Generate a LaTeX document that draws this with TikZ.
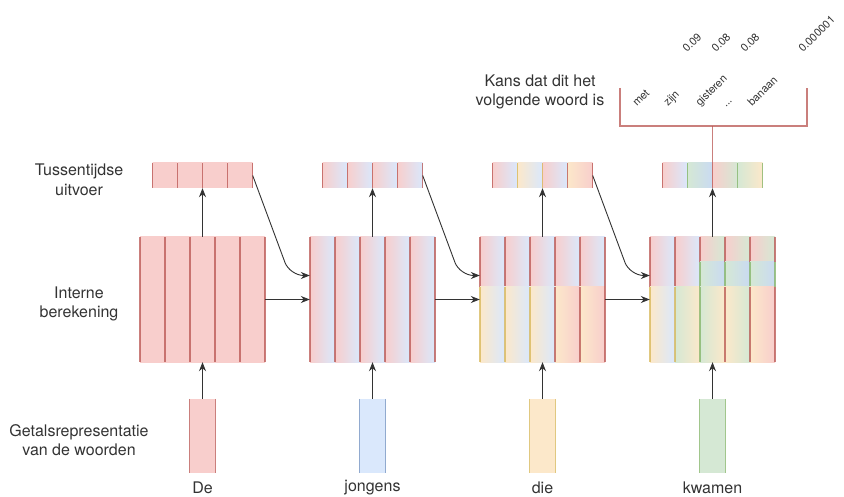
\documentclass[tikz,border=0pt]{standalone}
\usepackage{fontspec}
\setmainfont{TeX Gyre Heros}
\usetikzlibrary{arrows.meta}

\definecolor{redF}{HTML}{F8CECC}
\definecolor{redS}{HTML}{B85450}
\definecolor{blueF}{HTML}{DAE8FC}
\definecolor{blueM}{HTML}{C9DAF2}
\definecolor{blueS}{HTML}{6C8EBF}
\definecolor{yelF}{HTML}{FCE8CA}
\definecolor{yelS}{HTML}{D6B656}
\definecolor{grnF}{HTML}{D5E8D4}
\definecolor{grnS}{HTML}{82B366}

\def\colw{25}
% shaded cell: x, top, bottom, left colour, right colour, line colour
\newcommand\gcell[6]{%
  \shade[left color=#4, right color=#5] (#1,#2) rectangle ({#1+\colw},#3);
  \draw[#6, line width=1.3pt, opacity=0.75] (#1,#2) -- (#1,#3);
}

\begin{document}
\begin{tikzpicture}[x=1pt, y=-1pt,
  lbl/.style={font=\fontsize{16}{19.5}\selectfont, align=center, text=black!80},
  prob/.style={font=\fontsize{11}{13}\selectfont, rotate=45, anchor=base west, inner sep=0pt, text=black!80},
  blk/.style={minimum width=125pt, minimum height=125pt, inner sep=0pt},
  outbar/.style={minimum width=100pt, minimum height=25pt, inner sep=0pt},
  inbar/.style={minimum width=25pt, minimum height=74pt, inner sep=0pt},
  flow/.style={-{Stealth[length=9pt,width=7pt]}, draw=black!80, line width=0.9pt},
  edge/.style={line width=1.3pt, opacity=0.75}]
  \useasboundingbox (0,0) rectangle (844,497);

  % block 1: De
  \foreach \x in {140,165,...,240} \gcell{\x}{237}{362}{redF}{redF}{redS};
  \draw[edge, redS] (265,237) -- (265,362);
  \foreach \x in {152.5,177.5,...,227.5} \gcell{\x}{163}{188}{redF}{redF}{redS};
  \draw[edge, redS] (252.5,163) -- (252.5,188);

  % block 2: jongens
  \foreach \x in {310,335,...,410} \gcell{\x}{237}{362}{redF}{blueF}{redS};
  \draw[edge, redS] (435,237) -- (435,362);
  \foreach \x in {322.5,347.5,...,397.5} \gcell{\x}{163}{188}{redF}{blueF}{redS};
  \draw[edge, redS] (422.5,163) -- (422.5,188);

  % block 3: die
  \foreach \x in {480,505,...,580} \gcell{\x}{237}{287}{redF}{blueF}{redS};
  \foreach \x in {480,505,530} \gcell{\x}{287}{362}{yelF}{blueF}{yelS};
  \foreach \x in {555,580} \gcell{\x}{287}{362}{yelF}{redF}{redS};
  \draw[edge, redS] (605,237) -- (605,362);
  \gcell{492.5}{163}{188}{redF}{blueF}{redS}
  \gcell{517.5}{163}{188}{yelF}{blueF}{yelS}
  \gcell{542.5}{163}{188}{redF}{blueF}{yelS}
  \gcell{567.5}{163}{188}{yelF}{redF}{redS}
  \draw[edge, redS] (592.5,163) -- (592.5,188);

  % block 4: kwamen
  \foreach \x in {650,675} \gcell{\x}{237}{287}{redF}{blueF}{redS};
  \gcell{650}{287}{362}{yelF}{blueF}{yelS}
  \gcell{675}{287}{362}{grnF}{yelF}{yelS}
  \foreach \x in {700,725,750} {
    \gcell{\x}{237}{262}{redF}{grnF}{redS}
    \gcell{\x}{262}{287}{grnF}{blueM}{grnS}
  }
  \gcell{700}{287}{362}{grnF}{yelF}{grnS}
  \gcell{725}{287}{362}{yelF}{grnF}{redS}
  \gcell{750}{287}{362}{yelF}{redF}{redS}
  \draw[edge, redS] (775,237) -- (775,262);
  \draw[edge, grnS] (775,262) -- (775,287);
  \draw[edge, redS] (775,287) -- (775,362);
  \gcell{662.5}{163}{188}{redF}{blueF}{redS}
  \gcell{687.5}{163}{188}{grnF}{blueM}{grnS}
  \gcell{712.5}{163}{188}{redF}{grnF}{redS}
  \gcell{737.5}{163}{188}{grnF}{yelF}{grnS}
  \draw[edge, grnS] (762.5,163) -- (762.5,188);

  % word vectors
  \foreach \n/\x/\f/\s in {1/202.5/redF/redS, 2/372.5/blueF/blueS, 3/542.5/yelF/yelS, 4/712.5/grnF/grnS} {
    \node[inbar, fill=\f] (w\n) at (\x,436) {};
    \draw[edge, \s] (w\n.north west) -- (w\n.south west);
    \draw[edge, \s] (w\n.north east) -- (w\n.south east);
    \node[blk] (b\n) at (\x,299.5) {};
    \node[outbar] (o\n) at (\x,175.5) {};
  }

  \node[lbl] (t1) at (202.5,488) {De};
  \node[lbl] (t2) at (372.5,488) {jongens};
  \node[lbl] (t3) at (542.5,488) {die};
  \node[lbl] (t4) at (712.5,488) {kwamen};

  % arrows
  \foreach \n in {1,...,4} {
    \draw[flow] (w\n) -- (b\n);
    \draw[flow] (b\n) -- (o\n);
  }
  \foreach \n/\m in {1/2, 2/3, 3/4} {
    \draw[flow] (b\n.east) -- (b\m.west);
    \draw[flow, rounded corners=14pt] (o\n.east) -- ([xshift=-20pt,yshift=24pt]b\m.west) -- ([yshift=24pt]b\m.west);
  }

  % row labels
  \node[lbl] (lout) at (79,180) {Tussentijdse\\uitvoer};
  \node[lbl] (lint) at (79,304) {Interne\\berekening};
  \node[lbl] (lrep) at (79,440) {Getalsrepresentatie\\van de woorden};

  % probabilities
  \node[lbl] (kans) at (540,92) {Kans dat dit het\\volgende woord is};
  \coordinate (brk) at (712.5,126);
  \draw[edge, redS] (620,88) -- (620,126) -- (807,126) -- (807,88);
  \draw[edge, redS] (brk) -- (o4.north);
  \node[prob] (wmet) at (637,107) {met};
  \node[prob] (wzijn) at (668,107) {zijn};
  \node[prob] (wgis) at (700,107) {gisteren};
  \node[prob] (wdots) at (726,108) {...};
  \node[prob] (wban) at (752,107) {banaan};
  \node[prob] (p1) at (687,53) {0.09};
  \node[prob] (p2) at (716,53) {0.08};
  \node[prob] (p3) at (745,53) {0.08};
  \node[prob] (p4) at (803,53) {0.000001};
\end{tikzpicture}
\end{document}
